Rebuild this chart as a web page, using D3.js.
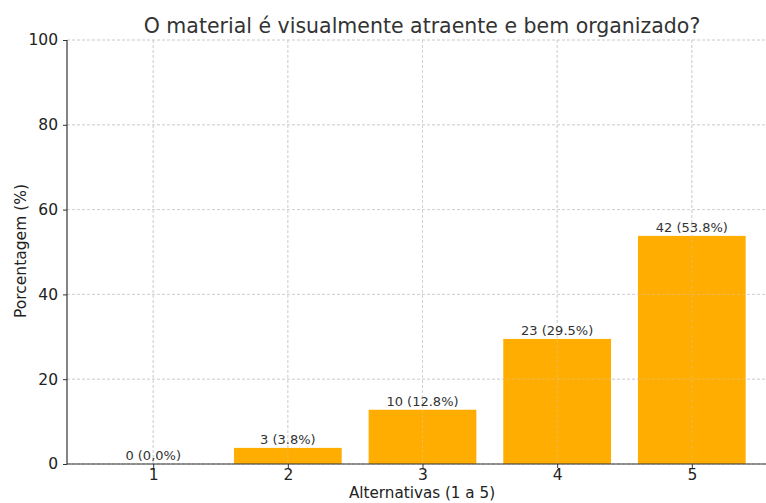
<!doctype html>
<html lang="pt">
<head>
<meta charset="utf-8">
<title>O material é visualmente atraente e bem organizado?</title>
<script src="https://d3js.org/d3.v7.min.js"></script>
<style>
  body { margin: 0; background: #fff; }
  text { font-family: "DejaVu Sans", sans-serif; }
</style>
</head>
<body>
<div id="chart"></div>
<script>
// data
var categories = [1, 2, 3, 4, 5];
var percents = [0, 3.8, 12.8, 29.5, 53.8];
var barLabels = ["0 (0,0%)", "3 (3.8%)", "10 (12.8%)", "23 (29.5%)", "42 (53.8%)"];
var yTicks = [0, 20, 40, 60, 80, 100];

var width = 766, height = 503;
var mLeft = 67, mRight = 778, mTop = 40, mBottom = 464;

var svg = d3.select('#chart').append('svg')
  .attr('width', width).attr('height', height);

// matplotlib-like limits: bars 0.6..5.4 plus 5% margin
var x = d3.scaleLinear().domain([0.36, 5.64]).range([mLeft, mRight]);
var y = d3.scaleLinear().domain([0, 100]).range([mBottom, mTop]);
var barW = x(1.8) - x(1);

function grid(g, opacity) {
  g.selectAll('line.gy').data(yTicks).enter().append('line').attr('class', 'gy')
    .attr('x1', mLeft).attr('x2', mRight)
    .attr('y1', function(d) { return y(d); }).attr('y2', function(d) { return y(d); });
  g.selectAll('line.gx').data(categories).enter().append('line').attr('class', 'gx')
    .attr('x1', function(d) { return x(d); }).attr('x2', function(d) { return x(d); })
    .attr('y1', mTop).attr('y2', mBottom);
  g.selectAll('line').attr('stroke', '#ccc').attr('stroke-opacity', opacity)
    .attr('stroke-width', 0.8).attr('stroke-dasharray', '3,2');
}

grid(svg.append('g'), 1);

// bars
svg.append('g').selectAll('rect').data(percents).enter().append('rect')
  .attr('x', function(d, i) { return x(categories[i]) - barW / 2; })
  .attr('width', barW)
  .attr('y', function(d) { return y(d); })
  .attr('height', function(d) { return mBottom - y(d); })
  .attr('fill', '#FFAD00');

// grid also shows faintly over bars
grid(svg.append('g'), 0.5);

// bar labels
svg.append('g').selectAll('text').data(barLabels).enter().append('text')
  .attr('x', function(d, i) { return x(categories[i]); })
  .attr('y', function(d, i) { return y(percents[i]) - 4; })
  .attr('text-anchor', 'middle')
  .style('font-size', '13px').style('fill', '#333')
  .text(function(d) { return d; });

// axes
var yAxis = d3.axisLeft(y).tickValues(yTicks).tickSize(4).tickPadding(5);
var gy = svg.append('g').attr('transform', 'translate(' + mLeft + ',0)').call(yAxis);
var xAxis = d3.axisBottom(x).tickValues(categories).tickFormat(d3.format('d')).tickSize(4).tickPadding(1);
var gx = svg.append('g').attr('transform', 'translate(0,' + mBottom + ')').call(xAxis);
[gx, gy].forEach(function(g) {
  g.select('.domain').attr('stroke', '#333').attr('stroke-width', 1.2);
  g.selectAll('.tick line').attr('stroke', '#333');
  g.selectAll('.tick text').style('font-size', '15.5px').style('fill', '#222')
    .style('font-family', '"DejaVu Sans", sans-serif');
});
gx.select('.domain').attr('d', 'M' + mLeft + ',0H' + mRight);
gy.select('.domain').attr('d', 'M0,' + mTop + 'V' + mBottom);

// titles
svg.append('text').attr('x', 422).attr('y', 33).attr('text-anchor', 'middle')
  .style('font-size', '20.5px').style('fill', '#333')
  .text('O material é visualmente atraente e bem organizado?');
svg.append('text').attr('x', 422).attr('y', 498).attr('text-anchor', 'middle')
  .style('font-size', '15.2px').style('fill', '#222')
  .text('Alternativas (1 a 5)');
svg.append('text').attr('transform', 'translate(26,251) rotate(-90)').attr('text-anchor', 'middle')
  .style('font-size', '15.5px').style('fill', '#222')
  .text('Porcentagem (%)');
</script>
</body>
</html>
